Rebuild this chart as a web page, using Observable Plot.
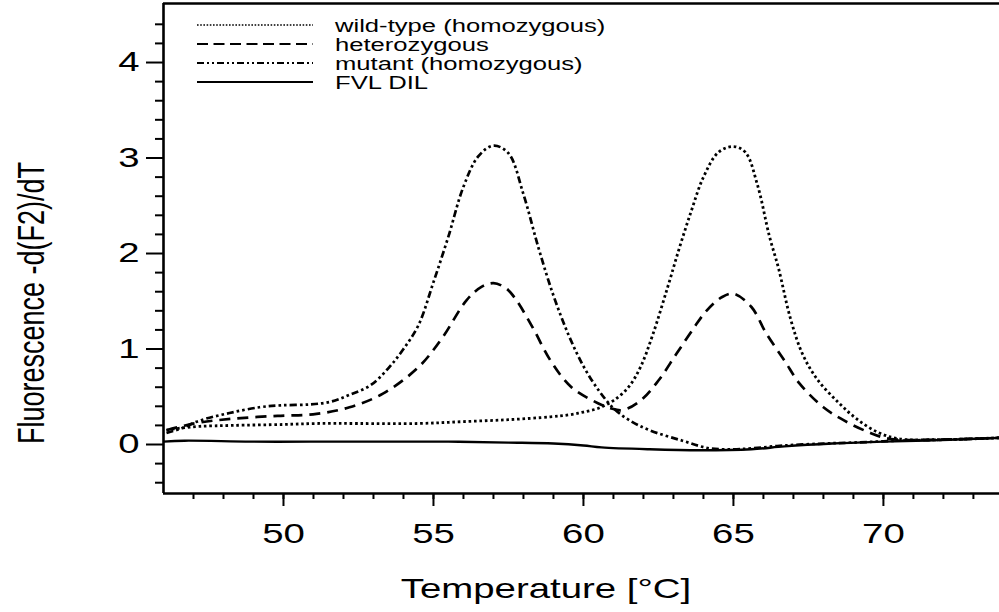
<!DOCTYPE html>
<html>
<head>
<meta charset="utf-8">
<script src="https://cdn.jsdelivr.net/npm/d3@7"></script>
<script src="https://cdn.jsdelivr.net/npm/@observablehq/plot@0.6"></script>
<style>
  html, body { margin: 0; padding: 0; background: #fff; }
  #chart { width: 999px; height: 612px; }
  svg { display: block; }
</style>
</head>
<body>
<div id="chart"></div>
<script>
// ---------- data ----------
const xLabel = "Temperature [°C]";
const yLabel = "Fluorescence -d(F2)/dT";
const xMajorTicks = [50, 55, 60, 65, 70];
const xMinorTicks = d3.range(47, 74);
const yMajorTicks = [0, 1, 2, 3, 4];
const yMinorTicks = [-0.4, -0.2, 0.2, 0.4, 0.6, 0.8, 1.2, 1.4, 1.6, 1.8, 2.2, 2.4, 2.6, 2.8, 3.2, 3.4, 3.6, 3.8, 4.2, 4.4];
const xDomain = [46, 73.87];
const yDomain = [-0.513, 4.618];

const seriesNames = ["wild-type (homozygous)", "heterozygous", "mutant (homozygous)", "FVL DIL"];

const wildTypeT = [46.1, 46.5, 47.2, 48.3, 50.0, 51.1, 52.5, 54.5, 56.0, 57.5, 58.9, 59.5, 60.0, 60.5, 61.0, 61.5, 61.9, 62.3, 62.8, 63.2, 63.6, 64.0, 64.5, 65.0, 65.4, 65.8, 66.2, 66.5, 66.9, 67.3, 67.8, 68.5, 69.1, 69.8, 70.5, 71.7, 73.0, 73.87];
const wildTypeV = [0.15, 0.17, 0.19, 0.20, 0.21, 0.22, 0.22, 0.22, 0.24, 0.26, 0.29, 0.31, 0.34, 0.38, 0.46, 0.60, 0.81, 1.14, 1.64, 2.06, 2.45, 2.80, 3.06, 3.12, 3.06, 2.72, 2.18, 1.85, 1.32, 0.95, 0.68, 0.44, 0.27, 0.13, 0.06, 0.05, 0.06, 0.07];

const heteroT = [46.1, 46.6, 47.2, 48.3, 49.8, 51.1, 52.2, 53.3, 54.5, 55.3, 56.1, 56.6, 57.0, 57.4, 57.7, 58.3, 58.9, 59.6, 60.5, 60.9, 61.3, 61.9, 62.5, 63.1, 63.7, 64.1, 64.6, 65.0, 65.6, 66.1, 66.7, 67.2, 68.0, 68.7, 69.5, 70.2, 71.7, 73.87];
const heteroV = [0.15, 0.19, 0.23, 0.27, 0.30, 0.32, 0.39, 0.53, 0.81, 1.12, 1.51, 1.65, 1.69, 1.64, 1.54, 1.23, 0.88, 0.60, 0.43, 0.38, 0.36, 0.46, 0.67, 0.95, 1.23, 1.40, 1.54, 1.58, 1.44, 1.16, 0.88, 0.64, 0.39, 0.25, 0.13, 0.06, 0.05, 0.07];

const mutantT = [46.1, 46.6, 47.2, 48.2, 49.2, 49.9, 50.9, 51.6, 52.2, 52.9, 53.5, 54.0, 54.5, 55.0, 55.5, 56.0, 56.5, 57.0, 57.5, 58.0, 58.5, 59.0, 59.5, 60.0, 60.5, 61.0, 61.5, 62.2, 63.3, 64.2, 65.0, 65.6, 66.7, 68.0, 69.0, 70.5, 72.0, 73.87];
const mutantV = [0.12, 0.17, 0.25, 0.33, 0.39, 0.41, 0.42, 0.45, 0.52, 0.62, 0.80, 1.00, 1.25, 1.70, 2.18, 2.70, 3.02, 3.13, 3.05, 2.62, 2.06, 1.56, 1.15, 0.82, 0.57, 0.38, 0.26, 0.15, 0.04, -0.04, -0.05, -0.04, -0.01, 0.01, 0.02, 0.04, 0.05, 0.07];

const fvlT = [46.0, 46.7, 48.9, 50.9, 53.3, 55.5, 57.5, 59.0, 60.0, 60.6, 62.2, 63.9, 65.6, 66.7, 68.3, 70.0, 72.2, 73.87];
const fvlV = [0.03, 0.04, 0.03, 0.03, 0.03, 0.03, 0.02, 0.01, -0.01, -0.03, -0.05, -0.06, -0.05, -0.02, 0.01, 0.03, 0.05, 0.07];

// ---------- styles ----------
const SX = 1.37; // horizontal stretch of the reference's lettering
const FONT = "'Liberation Sans', Arial, Helvetica, sans-serif";
const lineStyles = [
  {dash: "2.6,2.8", width: 2.8, legendDash: "1.6,1.6", legendWidth: 1.7},
  {dash: "11,7", width: 2.7, legendDash: "11,5.5", legendWidth: 2.2},
  {dash: "7,3,2.6,3,2.6,3", width: 2.7, legendDash: "7,3,2,3,2,3", legendWidth: 2.1},
  {dash: null, width: 2.4, legendDash: null, legendWidth: 2.2}
];
const seriesT = [wildTypeT, heteroT, mutantT, fvlT];
const seriesV = [wildTypeV, heteroV, mutantV, fvlV];

const lineMarks = seriesNames.map((name, k) => {
  const rows = seriesT[k].map((t, i) => ({t, v: seriesV[k][i], name}));
  const st = lineStyles[k];
  return Plot.line(rows, {
    x: "t", y: "v", stroke: "black", strokeWidth: st.width,
    strokeDasharray: st.dash ?? undefined, strokeLinecap: "butt",
    curve: "catmull-rom", clip: true
  });
});

const blank = () => "";

const svg = Plot.plot({
  width: 999, height: 612,
  marginLeft: 163, marginRight: 0, marginTop: 3, marginBottom: 119,
  style: {fontFamily: FONT, background: "#fff", color: "black"},
  x: {domain: xDomain},
  y: {domain: yDomain},
  marks: [
    Plot.axisX({ticks: xMinorTicks, tickSize: 6, strokeWidth: 2, tickFormat: blank, label: null}),
    Plot.axisX({ticks: xMajorTicks, tickSize: 13, strokeWidth: 2, tickPadding: 17, fontSize: 28, label: null, tickFormat: d => String(d)}),
    Plot.axisY({ticks: yMinorTicks, tickSize: 8, strokeWidth: 2, tickFormat: blank, label: null}),
    Plot.axisY({ticks: yMajorTicks, tickSize: 17, strokeWidth: 2, tickPadding: 7, fontSize: 28, label: null, tickFormat: d => String(d)}),
    ...lineMarks,
    Plot.ruleX([xDomain[0]], {strokeWidth: 2.6}),
    Plot.ruleY([yDomain[0]], {strokeWidth: 2.4}),
    Plot.ruleY([yDomain[1]], {strokeWidth: 2.4})
  ]
});

document.getElementById("chart").append(svg);

// ---------- legend and titles ----------
const s = d3.select(svg);
const legend = s.append("g").attr("font-family", FONT).attr("font-size", 18.7).attr("text-anchor", "start");
seriesNames.forEach((name, i) => {
  const y = 25 + i * 19;
  const st = lineStyles[i];
  legend.append("line")
    .attr("x1", 197).attr("x2", 313).attr("y1", y).attr("y2", y)
    .attr("stroke", "black").attr("stroke-width", st.legendWidth)
    .attr("stroke-dasharray", st.legendDash);
  legend.append("text").attr("class", "stretch")
    .attr("x", 335).attr("y", y).attr("dy", "0.36em")
    .attr("text-anchor", "start")
    .attr("fill", "black").text(name);
});

s.append("text").attr("class", "stretch")
  .attr("x", 546).attr("y", 598)
  .attr("text-anchor", "middle")
  .attr("font-family", FONT).attr("font-size", 28).attr("fill", "black")
  .text(xLabel);

s.append("text")
  .attr("transform", `translate(44,303) rotate(-90) scale(1,${SX})`)
  .attr("text-anchor", "middle")
  .attr("font-family", FONT).attr("font-size", 27).attr("fill", "black")
  .text(yLabel);

// stretch horizontal lettering (tick labels, legend, x title)
svg.querySelectorAll("g[aria-label$='tick label'] text, text.stretch").forEach(t => {
  const w = t.getComputedTextLength();
  if (w > 0) {
    t.setAttribute("textLength", (w * SX).toFixed(1));
    t.setAttribute("lengthAdjust", "spacingAndGlyphs");
  } else {
    t.remove();
  }
});
</script>
</body>
</html>
